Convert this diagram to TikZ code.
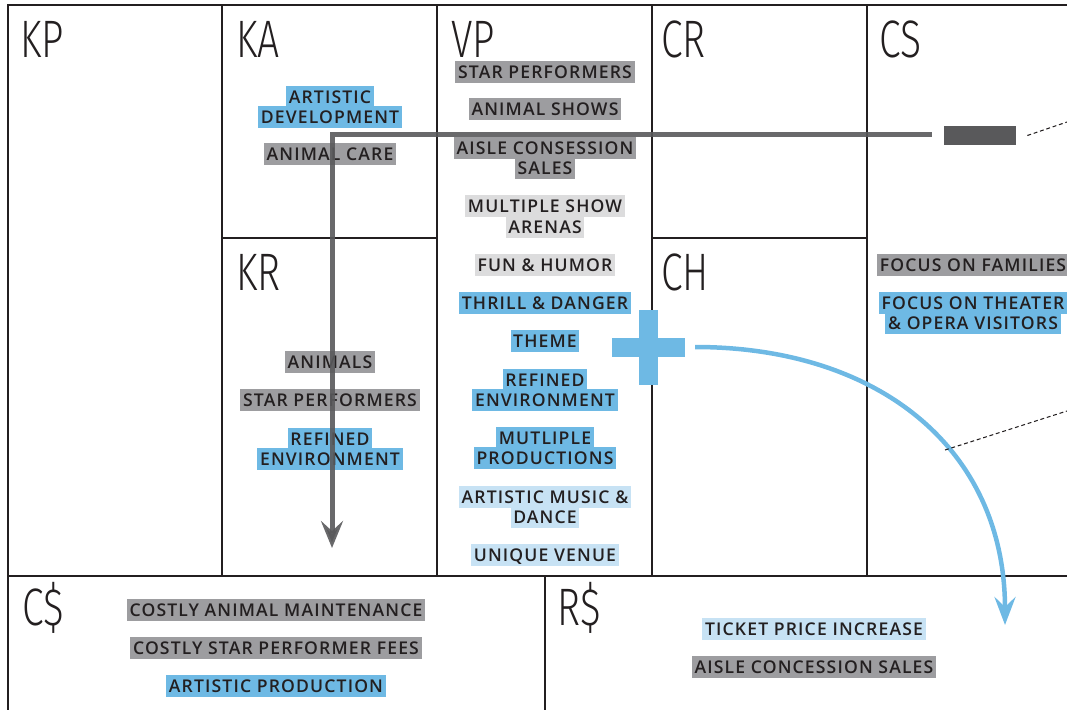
\documentclass[tikz,border=0pt]{standalone}
\usepackage{fontspec}
\setsansfont{Open Sans}[LetterSpace=6.5,BoldFont={Open Sans Semibold}]
\newfontfamily\cellfont{Fira Sans}[UprightFont={* Light},FakeStretch=0.74]
\usetikzlibrary{arrows.meta}
\definecolor{ink}{HTML}{231F20}
\definecolor{hlgrey}{HTML}{9D9DA0}
\definecolor{hllight}{HTML}{DCDCDD}
\definecolor{hlblue}{HTML}{6EB9E4}
\definecolor{hlpale}{HTML}{C7E2F4}
\definecolor{arrowgrey}{HTML}{59595B}
\begin{document}
\begin{tikzpicture}[x=0.02cm,y=-0.02cm,
  grid/.style={draw=ink, line width=0.03cm},
  cell/.style={anchor=base west, inner sep=0pt, text=ink, font=\cellfont\fontsize{30}{30}\selectfont},
  item/.style={inner xsep=1.5pt, inner ysep=0pt, minimum height=0.43cm, text height=7pt, text depth=0pt, text=ink, font=\sffamily\bfseries\fontsize{10}{10}\selectfont},
  gitem/.style={item, fill=hlgrey},
  litem/.style={item, fill=hllight},
  bitem/.style={item, fill=hlblue},
  pitem/.style={item, fill=hlpale},
  guide/.style={ink, dash pattern=on 2.2pt off 1.6pt, line width=0.6pt}]
\useasboundingbox (0,0) rectangle (1067,710);

% canvas
\draw[grid] (1067,5) -- (8,5) -- (8,710);
\foreach \x in {222,437,652,867}
  \draw[grid] (\x,5) -- (\x,576);
\draw[grid] (222,238) -- (437,238);
\draw[grid] (652,238) -- (867,238);
\draw[grid] (8,576) -- (1067,576);
\draw[grid] (545,576) -- (545,710);

\node[cell] (kp) at (20,57) {KP};
\node[cell] (ka) at (236,57) {KA};
\node[cell] (vp) at (451,57) {VP};
\node[cell] (cr) at (661,57) {CR};
\node[cell] (cs) at (879,57) {CS};
\node[cell] (kr) at (236,290) {KR};
\node[cell] (ch) at (661,290) {CH};
\node[cell] (cost) at (22,625) {C\$};
\node[cell] (rev) at (557,625) {R\$};

% key activities / resources
\node[bitem] (ka1) at (330,97) {ARTISTIC};
\node[bitem] (ka1b) at (330,117) {DEVELOPMENT};
\node[gitem] (ka2) at (330,154) {ANIMAL CARE};
\node[gitem] (kr1) at (330,362) {ANIMALS};
\node[gitem] (kr2) at (330,400) {STAR PERFORMERS};
\node[bitem] (kr3) at (330,439) {REFINED};
\node[bitem] (kr3b) at (330,459) {ENVIRONMENT};

% value proposition
\node[gitem] (vp1) at (545,72) {STAR PERFORMERS};
\node[gitem] (vp2) at (545,109) {ANIMAL SHOWS};
\node[gitem] (vp3) at (545,148) {AISLE CONSESSION};
\node[gitem] (vp3b) at (545,168) {SALES};
\node[litem] (vp4) at (545,206) {MULTIPLE SHOW};
\node[litem] (vp4b) at (545,227) {ARENAS};
\node[litem] (vp5) at (545,265) {FUN \& HUMOR};
\node[bitem] (vp6) at (545,303) {THRILL \& DANGER};
\node[bitem] (vp7) at (545,341) {THEME};
\node[bitem] (vp8) at (545,380) {REFINED};
\node[bitem] (vp8b) at (545,400) {ENVIRONMENT};
\node[bitem] (vp9) at (545,438) {MUTLIPLE};
\node[bitem] (vp9b) at (545,458) {PRODUCTIONS};
\node[pitem] (vp10) at (545,497) {ARTISTIC MUSIC \&};
\node[pitem] (vp10b) at (545,517) {DANCE};
\node[pitem] (vp11) at (545,555) {UNIQUE VENUE};

% customer segments
\node[gitem] (cs1) at (973,265) {FOCUS ON FAMILIES};
\node[bitem] (cs2) at (973,303) {FOCUS ON THEATER};
\node[bitem] (cs2b) at (973,323) {\& OPERA VISITORS};

% costs / revenues
\node[gitem] (c1) at (276,610) {COSTLY ANIMAL MAINTENANCE};
\node[gitem] (c2) at (276,648) {COSTLY STAR PERFORMER FEES};
\node[bitem] (c3) at (276,686) {ARTISTIC PRODUCTION};
\node[pitem] (r1) at (814,629) {TICKET PRICE INCREASE};
\node[gitem] (r2) at (814,667) {AISLE CONCESSION SALES};

% removed segment -> key resources
\node[fill=arrowgrey, inner sep=0pt, minimum width=1.44cm, minimum height=0.38cm] (bar) at (980,135.5) {};
\coordinate (kdown) at (332,548);
\draw[arrowgrey, opacity=0.9, line width=0.1cm, -{Stealth[length=0.54cm,width=0.44cm,inset=0.2cm]}]
  ([xshift=-0.24cm,yshift=0.03cm]bar.west) -| (kdown);
\coordinate (dashA) at (1067,122);
\draw[guide] ([xshift=0.22cm]bar.east) -- (dashA);

% added segment -> revenues
\coordinate (plus) at (648.5,347.5);
\fill[hlblue] ([shift={(-9.5,-37.5)}]plus) rectangle ([shift={(9.5,37.5)}]plus);
\fill[hlblue] ([shift={(-36.5,-9.5)}]plus) rectangle ([shift={(36.5,9.5)}]plus);
\coordinate (pstart) at (695,347);
\coordinate (rtip) at (1005,625);
\draw[hlblue, line width=0.09cm, -{Stealth[length=0.56cm,width=0.42cm,inset=0.2cm]}]
  (pstart) .. controls (880,347) and (1005,450) .. (rtip);
\coordinate (dashB) at (945,450);
\draw[guide] (dashB) -- (1067,411);
\end{tikzpicture}
\end{document}
